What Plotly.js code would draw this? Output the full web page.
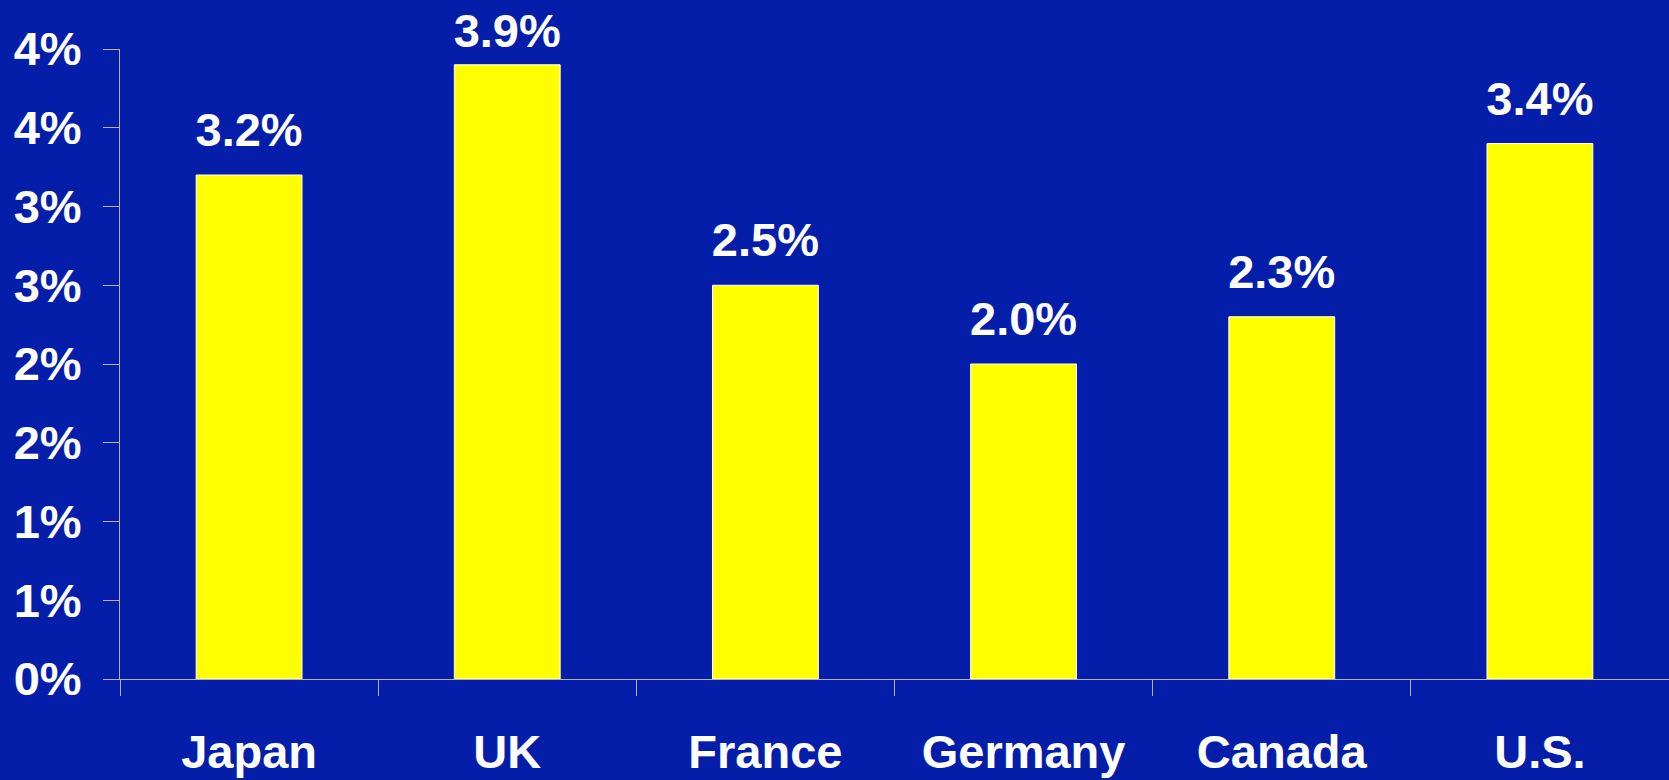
<!DOCTYPE html>
<html>
<head>
<meta charset="utf-8">
<script src="https://cdn.plot.ly/plotly-3.0.1.min.js"></script>
<style>html,body{margin:0;padding:0;background:#041EAA;}#chart{width:1669px;height:780px;}</style>
</head>
<body>
<div id="chart"></div>
<script>
const countries = ["Japan", "UK", "France", "Germany", "Canada", "U.S."];
const growth = [3.2, 3.9, 2.5, 2.0, 2.3, 3.4];
const yTickVals = [0, 0.5, 1, 1.5, 2, 2.5, 3, 3.5, 4];
const yTickText = ["0%", "1%", "1%", "2%", "2%", "3%", "3%", "4%", "4%"];

const bg = '#041EAA';
const fontFam = '"Liberation Sans", Arial, sans-serif';
const big = {family: fontFam, size: 47, color: '#ffffff', weight: 'bold'};
const yMax = 4;

const bars = {
  type: 'bar',
  x: countries,
  y: growth,
  width: 0.41,
  marker: {color: '#FFFF00', line: {color: '#ffffff', width: 1}},
  hoverinfo: 'skip'
};
// Labels sit above each bar; near the top of the axis they are pulled closer so they stay inside the page.
const labels = {
  type: 'scatter',
  mode: 'markers+text',
  x: countries,
  y: growth,
  text: growth.map(v => v.toFixed(1) + '%'),
  textposition: 'top center',
  textfont: big,
  marker: {size: growth.map(v => (yMax - v < 0.2 ? 8 : 26)), opacity: 0},
  cliponaxis: false,
  hoverinfo: 'skip'
};

const layout = {
  width: 1669, height: 780,
  paper_bgcolor: bg, plot_bgcolor: bg,
  margin: {l: 120, r: 0, t: 49, b: 101},
  showlegend: false,
  bargap: 0,
  xaxis: {
    type: 'category',
    showgrid: false, zeroline: false,
    showline: true, linecolor: '#b4b4b4', linewidth: 1,
    ticks: 'outside', tickson: 'boundaries', ticklen: 16, tickcolor: '#b4b4b4', tickwidth: 1,
    tickfont: big,
    ticklabelstandoff: 32,
    range: [-0.5, 5.5]
  },
  yaxis: {
    range: [0, yMax],
    showgrid: false, zeroline: false,
    showline: true, linecolor: '#b4b4b4', linewidth: 1,
    ticks: 'outside', ticklen: 16, tickcolor: '#b4b4b4', tickwidth: 1,
    tickvals: yTickVals, ticktext: yTickText,
    tickfont: big,
    ticklabelstandoff: 12
  }
};

Plotly.newPlot('chart', [bars, labels], layout, {displayModeBar: false, staticPlot: true});
</script>
</body>
</html>
